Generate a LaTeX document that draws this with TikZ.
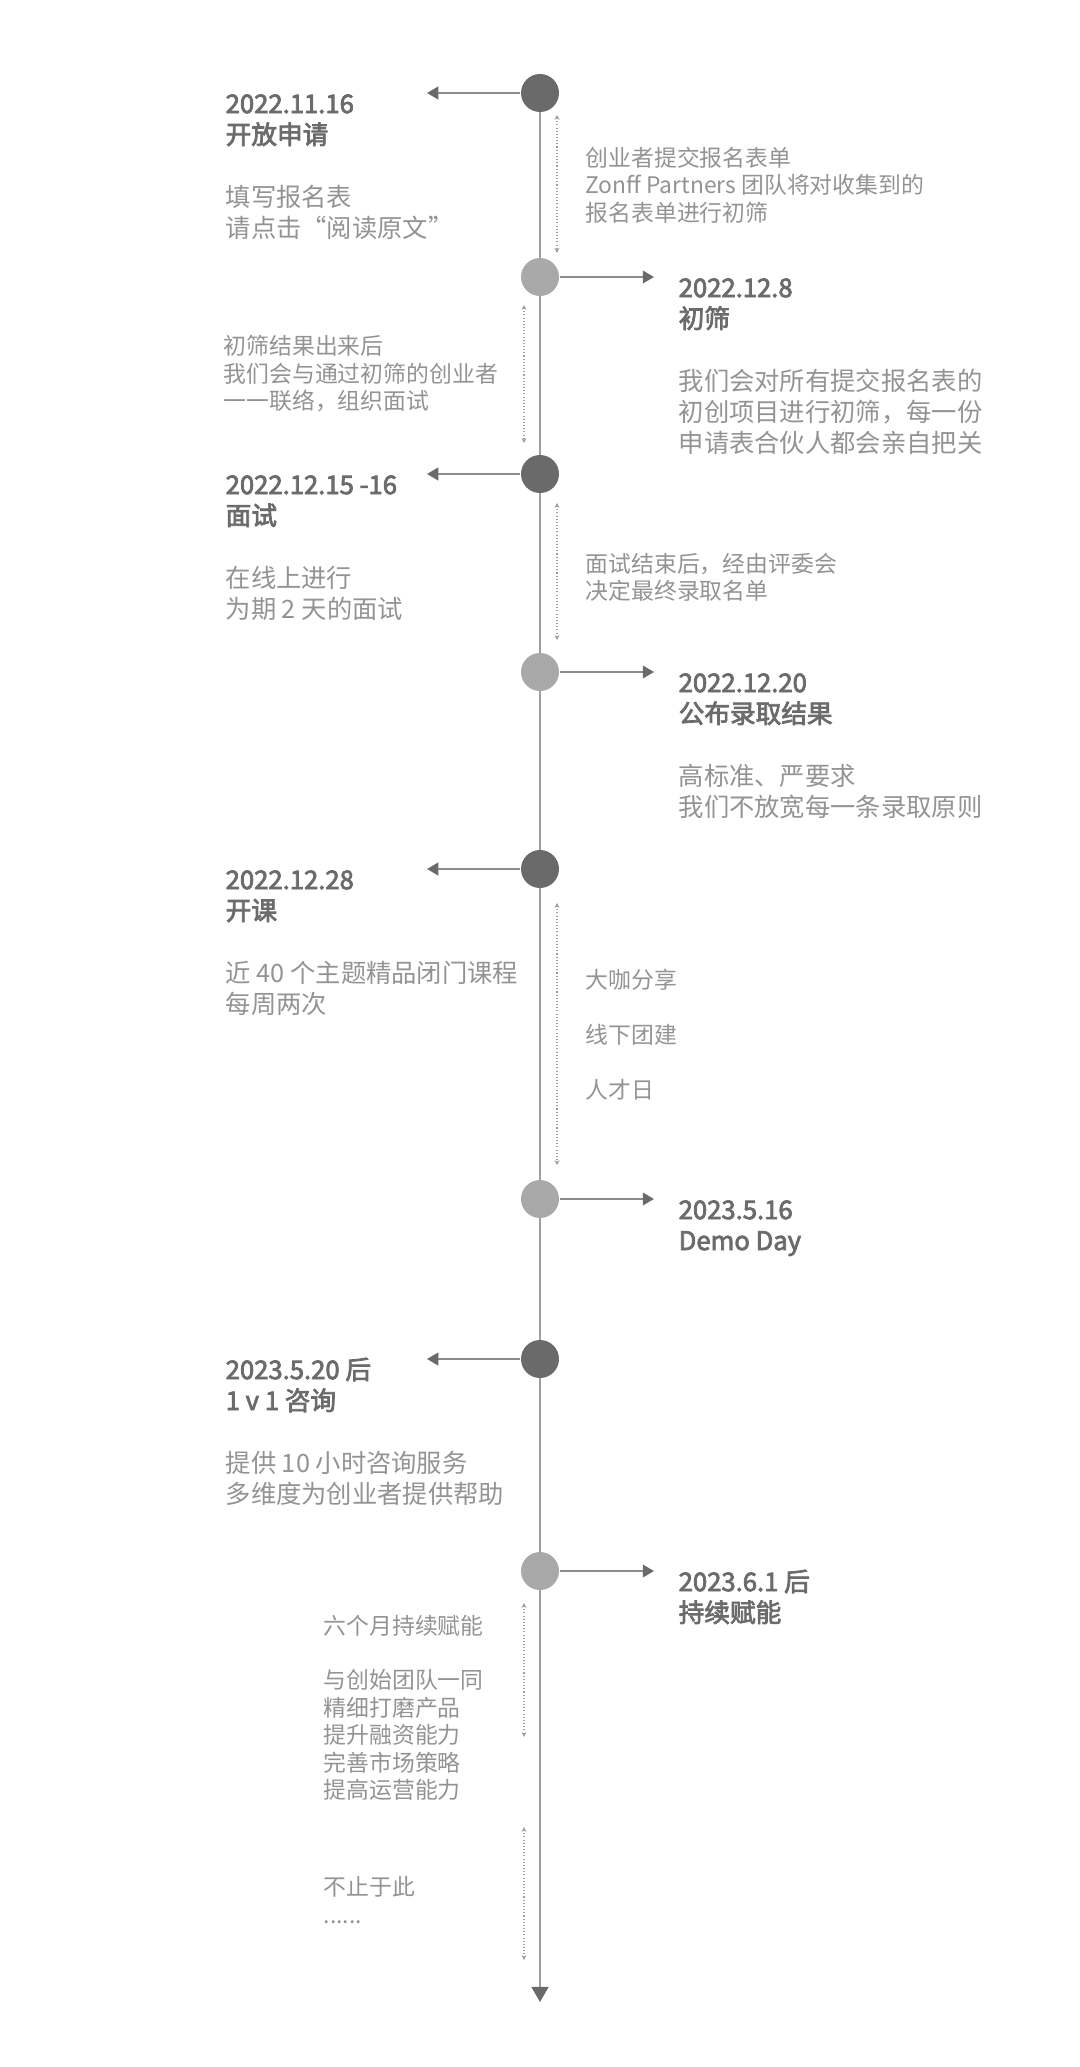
\documentclass[tikz,border=0pt]{standalone}
\usepackage{fontspec}
\setmainfont{Noto Sans CJK SC}
\newfontfamily\headfont[FakeBold=3]{Noto Sans CJK SC}
\usepackage{xcolor}
\definecolor{darkdot}{HTML}{6A6A6A}
\definecolor{lightdot}{HTML}{A9A9A9}
\definecolor{axisgray}{HTML}{9E9E9E}
\definecolor{linkgray}{HTML}{8C8C8C}
\definecolor{titlegray}{HTML}{6B6B6B}
\definecolor{textgray}{HTML}{939393}
\usetikzlibrary{arrows.meta,positioning,backgrounds}

\begin{document}
\begin{tikzpicture}[
    event/.style={circle, minimum size=0.38cm, inner sep=0pt},
    evdark/.style={event, fill=darkdot},
    evlight/.style={event, fill=lightdot},
    headline/.style={anchor=base west, inner sep=0pt, align=left, text=titlegray, font=\headfont\fontsize{7.3}{8.8}\selectfont},
    desc/.style={anchor=base west, inner sep=0pt, align=left, text=textgray, font=\fontsize{7.2}{8.7}\selectfont},
    note/.style={anchor=base west, inner sep=0pt, align=left, text=textgray, font=\fontsize{6.5}{7.8}\selectfont},
    arrow/.style={-{Triangle[length=3.2pt,width=3.6pt,color=darkdot]}, draw=linkgray, line width=0.55pt},
    spanarrow/.style={{Stealth[length=1.4pt,width=1.4pt]}-{Stealth[length=1.4pt,width=1.4pt]}, draw=axisgray, line width=0.3pt, dash pattern=on 0.3pt off 0.6pt},
]
\useasboundingbox (0,0) rectangle (10.8,-20.67);

% events on the time axis
\node[evdark]  (c1) at (5.40,-0.93) {};
\node[evlight] (c2) at (5.40,-2.77) {};
\node[evdark]  (c3) at (5.40,-4.74) {};
\node[evlight] (c4) at (5.40,-6.72) {};
\node[evdark]  (c5) at (5.40,-8.69) {};
\node[evlight] (c6) at (5.40,-11.99) {};
\node[evdark]  (c7) at (5.40,-13.59) {};
\node[evlight] (c8) at (5.40,-15.71) {};

% time axis
\coordinate (axisend) at (5.40,-20.02);
\begin{scope}[on background layer]
\draw[draw=axisgray, line width=0.57pt, -{Triangle[length=4.3pt,width=4.8pt,color=darkdot]}] (c1.center) -- (axisend);
\end{scope}

% Event 1: 开放申请 (node base = last line)
\coordinate (a1) at (4.27,-0.93);
\draw[arrow] (c1) -- (a1);
\node[headline] (t1) at (2.25,-1.44) {2022.11.16\\开放申请};
\node[desc] (d1) at (2.25,-2.375) {填写报名表\\请点击“阅读原文”};

\coordinate (r1a) at (5.57,-1.15);
\coordinate (r1b) at (5.57,-2.53);
\draw[spanarrow] (r1a) -- (r1b);
\node[note] (n1) at (5.85,-2.21) {创业者提交报名表单\\Zonff Partners 团队将对收集到的\\报名表单进行初筛};

% Event 2: 初筛
\coordinate (a2) at (6.54,-2.77);
\draw[arrow] (c2) -- (a2);
\node[headline] (t2) at (6.78,-3.28) {2022.12.8\\初筛};
\node[desc] (d2) at (6.78,-4.52) {我们会对所有提交报名表的\\初创项目进行初筛，每一份\\申请表合伙人都会亲自把关};

\coordinate (l1a) at (5.24,-3.05);
\coordinate (l1b) at (5.24,-4.43);
\draw[spanarrow] (l1a) -- (l1b);
\node[note] (n2) at (2.23,-4.095) {初筛结果出来后\\我们会与通过初筛的创业者\\一一联络，组织面试};

% Event 3: 面试
\coordinate (a3) at (4.27,-4.74);
\draw[arrow] (c3) -- (a3);
\node[headline] (t3) at (2.25,-5.25) {2022.12.15 -16\\面试};
\node[desc] (d3) at (2.25,-6.185) {在线上进行\\为期 2 天的面试};

\coordinate (r2a) at (5.57,-5.03);
\coordinate (r2b) at (5.57,-6.40);
\draw[spanarrow] (r2a) -- (r2b);
\node[note] (n3) at (5.85,-5.995) {面试结束后，经由评委会\\决定最终录取名单};

% Event 4: 公布录取结果
\coordinate (a4) at (6.54,-6.72);
\draw[arrow] (c4) -- (a4);
\node[headline] (t4) at (6.78,-7.23) {2022.12.20\\公布录取结果};
\node[desc] (d4) at (6.78,-8.165) {高标准、严要求\\我们不放宽每一条录取原则};

% Event 5: 开课
\coordinate (a5) at (4.27,-8.69);
\draw[arrow] (c5) -- (a5);
\node[headline] (t5) at (2.25,-9.20) {2022.12.28\\开课};
\node[desc] (d5) at (2.25,-10.135) {近 40 个主题精品闭门课程\\每周两次};

\coordinate (r3a) at (5.57,-9.03);
\coordinate (r3b) at (5.57,-11.65);
\draw[spanarrow] (r3a) -- (r3b);
\node[note] (n4) at (5.85,-10.985) {大咖分享\\[7.8pt]线下团建\\[7.8pt]人才日};

% Event 6: Demo Day
\coordinate (a6) at (6.54,-11.99);
\draw[arrow] (c6) -- (a6);
\node[headline] (t6) at (6.78,-12.50) {2023.5.16\\Demo Day};

% Event 7: 1 v 1 咨询
\coordinate (a7) at (4.27,-13.59);
\draw[arrow] (c7) -- (a7);
\node[headline] (t7) at (2.25,-14.10) {2023.5.20 后\\1 v 1 咨询};
\node[desc] (d7) at (2.25,-15.035) {提供 10 小时咨询服务\\多维度为创业者提供帮助};

% Event 8: 持续赋能
\coordinate (a8) at (6.54,-15.71);
\draw[arrow] (c8) -- (a8);
\node[headline] (t8) at (6.78,-16.22) {2023.6.1 后\\持续赋能};

\coordinate (l2a) at (5.24,-16.03);
\coordinate (l2b) at (5.24,-17.37);
\draw[spanarrow] (l2a) -- (l2b);
\node[note] (n5) at (3.23,-17.985) {六个月持续赋能\\[7.8pt]与创始团队一同\\精细打磨产品\\提升融资能力\\完善市场策略\\提高运营能力};

\coordinate (l3a) at (5.24,-18.27);
\coordinate (l3b) at (5.24,-19.60);
\draw[spanarrow] (l3a) -- (l3b);
\node[note] (n6) at (3.23,-19.23) {不止于此\\......};

\end{tikzpicture}
\end{document}
